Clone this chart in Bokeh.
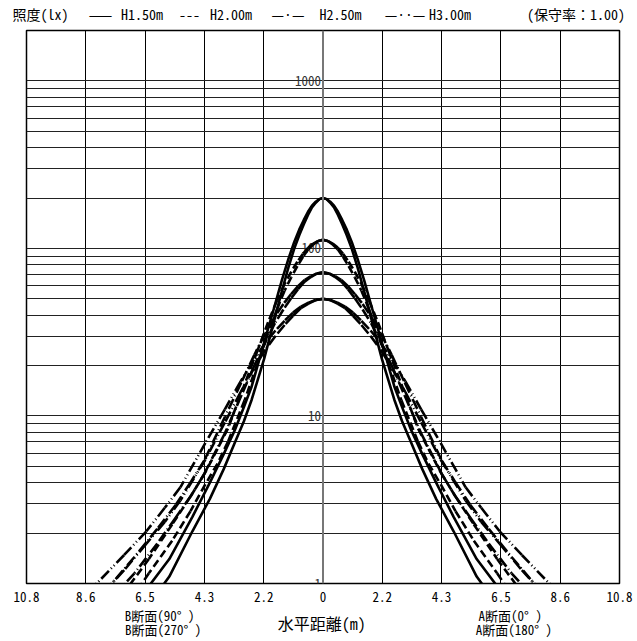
from bokeh.plotting import figure
from bokeh.models import FixedTicker, Span, LinearAxis
from bokeh.core.properties import value
from bokeh.embed import file_html
from bokeh.resources import INLINE

# ---- data (horizontal distance in m, illuminance in lx), right half; chart is mirrored ----
X_H150 = [0, 0.131, 0.264, 0.402, 0.546, 0.699, 0.866, 1.050, 1.259, 1.5, 1.788, 2.142, 2.598, 2.881, 3.217, 3.621, 4.121, 4.757, 5.598, 6.766]
X_H200 = [0, 0.175, 0.353, 0.536, 0.728, 0.933, 1.155, 1.400, 1.678, 2.0, 2.384, 2.856, 3.464, 3.842, 4.289, 4.828, 5.495, 6.343, 7.464, 9.021]
X_H250 = [0, 0.219, 0.441, 0.670, 0.910, 1.166, 1.443, 1.751, 2.098, 2.5, 2.979, 3.570, 4.330, 4.802, 5.361, 6.036, 6.869, 7.929, 9.330, 11.277]
X_H300 = [0, 0.262, 0.529, 0.804, 1.092, 1.399, 1.732, 2.101, 2.517, 3.0, 3.575, 4.284, 5.196, 5.763, 6.434, 7.243, 8.242, 9.515, 11.196, 13.532]

E_H150_A = [200, 197, 187.5, 176, 158.5, 139.5, 120, 99.5, 77, 55.5, 36.6, 22, 12.5, 9.3, 6.9, 4.8, 3.2, 2.05, 1.1, 0.6]
E_H150_B = [200, 197, 190, 180, 165.5, 148, 129.5, 109, 86.7, 64.5, 43.8, 27.5, 15, 11.3, 8.2, 5.9, 4.0, 2.5, 1.4, 0.78]
E_H200_A = [112.5, 110.8, 105.5, 99, 89.2, 78.5, 67.5, 56, 43.3, 31.2, 20.6, 12.4, 7.0, 5.2, 3.9, 2.7, 1.8, 1.15, 0.62, 0.34]
E_H200_B = [112.5, 110.8, 106.9, 101.3, 93.1, 83.3, 72.8, 61.3, 48.8, 36.3, 24.6, 15.5, 8.4, 6.36, 4.6, 3.3, 2.25, 1.4, 0.79, 0.44]
E_H250_A = [72, 70.9, 67.5, 63.4, 57.1, 50.2, 43.2, 35.8, 27.7, 20, 13.2, 7.9, 4.5, 3.35, 2.48, 1.73, 1.15, 0.74, 0.4, 0.22]
E_H250_B = [72, 70.9, 68.4, 64.8, 59.6, 53.3, 46.6, 39.2, 31.2, 23.2, 15.8, 9.9, 5.4, 4.07, 2.95, 2.12, 1.44, 0.9, 0.5, 0.28]
E_H300_A = [50, 49.25, 46.9, 44, 39.6, 34.9, 30, 24.9, 19.25, 13.9, 9.15, 5.5, 3.13, 2.33, 1.73, 1.2, 0.8, 0.51, 0.28, 0.15]
E_H300_B = [50, 49.25, 47.5, 45, 41.4, 37, 32.4, 27.3, 21.7, 16.1, 10.95, 6.9, 3.75, 2.83, 2.05, 1.48, 1.0, 0.63, 0.35, 0.2]

X_TICKS = [-10.8, -8.64, -6.48, -4.32, -2.16, 0.0, 2.16, 4.32, 6.48, 8.64, 10.8]
X_TICK_LABELS = ["10.8", "8.6", "6.5", "4.3", "2.2", "0", "2.2", "4.3", "6.5", "8.6", "10.8"]
Y_GRID = [1, 2, 3, 4, 5, 6, 7, 8, 9, 10, 20, 30, 40, 50, 60, 70, 80, 90,
          100, 200, 300, 400, 500, 600, 700, 800, 900, 1000]
Y_LABEL_VALUES = [1, 10, 100, 1000]
Y_LABELS = ["1", "10", "100", "1000"]

# header (legend) texts and their centres along the x scale
HEADER_POS = [-10.29, -8.105, -6.593, -4.863, -3.351, -1.275, 0.637, 2.987, 4.626, 9.216]
HEADER_TEXT = ["照度(lx)", "——", "H1.50m", "---", "H2.00m", "—·—", "H2.50m", "—··—", "H3.00m", "(保守率：1.00)"]

# footer texts (first line, axis title, second line)
FOOTER1_POS = [-5.95, 6.82]
FOOTER1_TEXT = ["B断面(90° )", "A断面(0° )"]
FOOTER_TITLE_POS = [-0.05]
FOOTER_TITLE_TEXT = ["水平距離(m)"]
FOOTER2_POS = [-5.82, 6.95]
FOOTER2_TEXT = ["B断面(270° )", "A断面(180° )"]

JP = "'Noto Sans Mono CJK JP', 'Noto Sans CJK JP', sans-serif"
MONO = "'Noto Sans Mono CJK JP', 'DejaVu Sans Mono', monospace"

p = figure(frame_width=593, frame_height=553, x_range=(-10.8, 10.8), y_range=(1, 2000),
           y_axis_type="log", output_backend="svg", toolbar_location=None,
           min_border_left=26, min_border_right=18, min_border_top=29, min_border_bottom=10)
p.background_fill_color = "white"
p.border_fill_color = "white"
p.outline_line_color = "black"
p.outline_line_width = 1.5

p.yaxis.visible = False
p.xaxis.ticker = FixedTicker(ticks=X_TICKS)
p.xaxis.major_label_overrides = dict(zip(X_TICKS, X_TICK_LABELS))
p.xaxis.axis_line_color = None
p.xaxis.major_tick_line_color = None
p.xaxis.minor_tick_line_color = None
p.xaxis.major_tick_out = 0
p.xaxis.major_tick_in = 0
p.xaxis.major_label_standoff = 8
p.xaxis.major_label_text_font = MONO
p.xaxis.major_label_text_font_size = "13px"
p.xaxis.major_label_text_color = "black"


def text_axis(ticks, labels, size, standoff):
    ax = LinearAxis(ticker=FixedTicker(ticks=ticks),
                    major_label_overrides=dict(zip(ticks, labels)))
    ax.axis_line_color = None
    ax.major_tick_line_color = None
    ax.minor_tick_line_color = None
    ax.major_tick_out = 0
    ax.major_tick_in = 0
    ax.major_label_standoff = standoff
    ax.major_label_text_font = JP
    ax.major_label_text_font_size = size
    ax.major_label_text_color = "black"
    return ax


p.add_layout(text_axis(HEADER_POS, HEADER_TEXT, "14px", 7), "above")
p.add_layout(text_axis(FOOTER1_POS, FOOTER1_TEXT, "13px", 1), "below")
p.add_layout(text_axis(FOOTER_TITLE_POS, FOOTER_TITLE_TEXT, "16px", -17), "below")
p.add_layout(text_axis(FOOTER2_POS, FOOTER2_TEXT, "13px", -18), "below")

p.xgrid.ticker = FixedTicker(ticks=X_TICKS)
p.xgrid.grid_line_color = "black"
p.xgrid.grid_line_width = 1
p.ygrid.ticker = FixedTicker(ticks=Y_GRID)
p.ygrid.grid_line_color = "#222222"
p.ygrid.grid_line_width = 1.2

p.add_layout(Span(location=0, dimension="height", line_color="#777777", line_width=2))

# y value labels next to the centre line
p.text(x=[0] * len(Y_LABEL_VALUES), y=Y_LABEL_VALUES, text=Y_LABELS, x_offset=-2,
       text_align="right", text_baseline="middle", text_font=value(MONO),
       text_font_size="13px", text_color="#333333")


def mirrored(xv, yv):
    xs = [-x for x in reversed(xv)] + list(xv[1:])
    ys = list(reversed(yv)) + list(yv[1:])
    return xs, ys


def segments(xv, yv):
    xs, ys = [], []
    for i in range(len(xv) - 1):
        xs.append([xv[i], xv[i + 1]])
        ys.append([yv[i], yv[i + 1]])
        xs.append([-xv[i], -xv[i + 1]])
        ys.append([yv[i], yv[i + 1]])
    return xs, ys


LW = 2.6
for ev in (E_H150_A, E_H150_B):
    xs, ys = mirrored(X_H150, ev)
    p.line(xs, ys, line_color="black", line_width=LW, line_join="round")

for xv, evs, dash in ((X_H200, (E_H200_A, E_H200_B), "8 4"),
                      (X_H250, (E_H250_A, E_H250_B), "11 3 1 3"),
                      (X_H300, (E_H300_A, E_H300_B), "11 3 1 3 1 3")):
    for ev in evs:
        xs, ys = segments(xv, ev)
        p.multi_line(xs, ys, line_color="black", line_width=LW, line_dash=dash)

open("out.html", "w").write(file_html(p, INLINE))
